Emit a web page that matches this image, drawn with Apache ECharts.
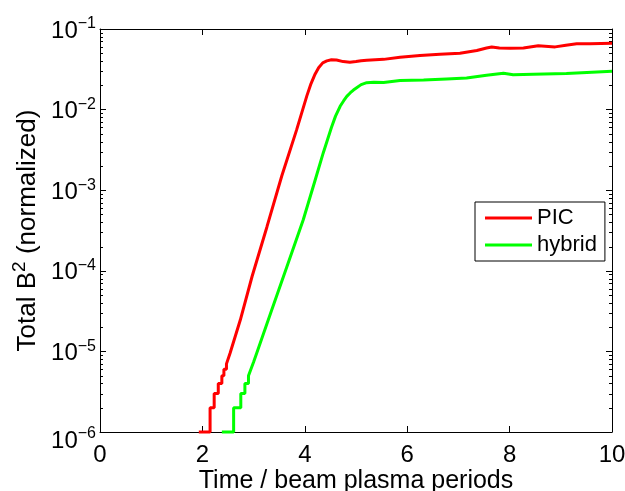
<!DOCTYPE html>
<html>
<head>
<meta charset="utf-8">
<script src="https://cdn.jsdelivr.net/npm/echarts@6/dist/echarts.min.js"></script>
<style>html,body{margin:0;padding:0;background:#fff}#c{width:625px;height:491px}</style>
</head>
<body>
<div id="c"></div>
<script>
// ---- data ----
const xTicks = [0, 2, 4, 6, 8, 10];
const yTickExponents = [-6, -5, -4, -3, -2, -1];
const seriesNames = ['PIC', 'hybrid'];

const picTime = [1.93, 2.15, 2.15, 2.23, 2.23, 2.31, 2.31, 2.38, 2.38, 2.42, 2.42, 2.47, 2.47, 2.54,
  2.74, 2.97, 3.26, 3.55, 3.84, 4.04, 4.12, 4.20, 4.27, 4.35, 4.43, 4.52, 4.62, 4.75, 4.88, 5.00, 5.10, 5.21, 5.54, 5.86,
  6.25, 6.64, 7.03, 7.36, 7.55, 7.65, 7.80, 8.01, 8.27, 8.56, 8.89, 9.10, 9.31, 9.57, 10.0];
const picB2 = [1e-6, 1e-6, 2e-6, 2e-6, 3e-6, 3e-6, 4e-6, 4e-6, 5e-6, 5e-6, 6e-6, 6e-6, 7e-6, 9.5e-6,
  2.45e-5, 8.5e-5, 3.5e-4, 1.5e-3, 5.6e-3, 0.0148, 0.0209, 0.0275, 0.0331, 0.038, 0.0402, 0.0415, 0.0412, 0.0394, 0.0386, 0.0394, 0.0403, 0.041, 0.042, 0.0447,
  0.047, 0.0485, 0.050, 0.054, 0.058, 0.0597, 0.058, 0.0575, 0.058, 0.062, 0.060, 0.063, 0.0655, 0.0655, 0.0665];

const hybTime = [2.38, 2.61, 2.61, 2.75, 2.75, 2.83, 2.83, 2.90, 2.90, 3.00, 3.06, 3.33, 3.65, 3.97,
  4.20, 4.36, 4.52, 4.60, 4.69, 4.76, 4.82, 4.89, 4.95, 5.02, 5.10, 5.21, 5.35, 5.54, 5.86, 6.32, 6.77, 7.16, 7.55, 7.88, 8.07,
  8.46, 9.11, 9.51, 10.0];
const hybB2 = [1e-6, 1e-6, 2e-6, 2e-6, 3e-6, 3e-6, 4e-6, 4e-6, 5e-6, 7.4e-6, 9.5e-6, 2.95e-5, 1.12e-4, 4.3e-4,
  1.32e-3, 2.9e-3, 6.0e-3, 0.0083, 0.011, 0.0129, 0.0146, 0.0162, 0.0175, 0.0188, 0.0204, 0.0216, 0.0219, 0.0217, 0.0229, 0.0233, 0.024, 0.0246, 0.0266, 0.0282, 0.027,
  0.0275, 0.028, 0.0289, 0.030];

const FONT = 'Liberation Sans, Arial, Helvetica, sans-serif';
const pair = (xs, ys) => xs.map((x, i) => [x, ys[i]]);

// minor tick positions on log axis (2..9 x 10^k)
const minorVals = [];
for (let k = yTickExponents[0]; k < yTickExponents[yTickExponents.length - 1]; k++) {
  for (let m = 2; m <= 9; m++) minorVals.push([0, m * Math.pow(10, k)]);
}

const chart = echarts.init(document.getElementById('c'), null, {renderer: 'canvas'});
const yMin = Math.pow(10, yTickExponents[0]);
const yMax = Math.pow(10, yTickExponents[yTickExponents.length - 1]);

const yLabelFmt = v => {
  const e = Math.round(Math.log10(v));
  const low = e === yTickExponents[0];
  return '{' + (low ? 'bl' : 'b') + '|10}{' + (low ? 'sl' : 's') + '|' + (e < 0 ? '\u2212' : '') + Math.abs(e) + '}';
};
const axisLineStyle = {show: true, onZero: false, lineStyle: {color: '#000', width: 1}};
const tickStyle = {show: true, inside: true, length: 6, lineStyle: {color: '#000'}};

chart.setOption({
  animation: false,
  backgroundColor: '#fff',
  grid: {left: 100, right: 13, top: 29, bottom: 59, containLabel: false, outerBoundsMode: 'none'},
  legend: {
    data: seriesNames,
    orient: 'vertical',
    left: 475, top: 202,
    icon: 'rect',
    itemWidth: 47, itemHeight: 3, itemGap: 5,
    padding: [5, 8, 5, 10],
    borderColor: '#000', borderWidth: 1,
    backgroundColor: '#fff',
    textStyle: {fontFamily: FONT, fontSize: 22, color: '#000', lineHeight: 22}
  },
  xAxis: [{
    type: 'value', min: xTicks[0], max: xTicks[xTicks.length - 1], interval: 2,
    position: 'bottom',
    axisLine: axisLineStyle, axisTick: tickStyle,
    axisLabel: {fontFamily: FONT, fontSize: 24, color: '#000', margin: 11},
    splitLine: {show: false},
    name: 'Time / beam plasma periods', nameLocation: 'middle', nameGap: 37,
    nameMoveOverlap: false,
    nameTextStyle: {fontFamily: FONT, fontSize: 25, color: '#000'}
  }, {
    type: 'value', min: xTicks[0], max: xTicks[xTicks.length - 1], interval: 2,
    position: 'top',
    axisLine: axisLineStyle, axisTick: tickStyle,
    axisLabel: {show: false}, splitLine: {show: false}
  }],
  yAxis: [{
    type: 'log', logBase: 10, min: yMin, max: yMax,
    position: 'left',
    axisLine: axisLineStyle, axisTick: tickStyle,
    axisLabel: {
      formatter: yLabelFmt, margin: 4, color: '#000', padding: [4, 0, 0, 0],
      rich: {
        b: {fontFamily: FONT, fontSize: 24, color: '#000'},
        s: {fontFamily: FONT, fontSize: 16, color: '#000', padding: [0, 0, 14, 0]},
        bl: {fontFamily: FONT, fontSize: 24, color: '#000', padding: [14, 0, 0, 0]},
        sl: {fontFamily: FONT, fontSize: 16, color: '#000', padding: [14, 0, 14, 0]}
      }
    },
    splitLine: {show: false},
    name: 'Total B{s|2} (normalized)', nameLocation: 'middle', nameGap: 54,
    nameMoveOverlap: false,
    nameTextStyle: {
      fontFamily: FONT, fontSize: 26, color: '#000',
      rich: {s: {fontFamily: FONT, fontSize: 19, color: '#000', padding: [0, 0, 17, 0]}}
    }
  }, {
    type: 'log', logBase: 10, min: yMin, max: yMax,
    position: 'right',
    axisLine: axisLineStyle, axisTick: tickStyle,
    axisLabel: {show: false}, splitLine: {show: false}
  }],
  series: [{
    name: 'minorTicks', type: 'custom', xAxisIndex: 0, yAxisIndex: 0,
    silent: true, clip: false, z: 1,
    data: minorVals,
    renderItem: (params, api) => {
      const pL = api.coord([xTicks[0], api.value(1)]);
      const pR = api.coord([xTicks[xTicks.length - 1], api.value(1)]);
      const st = {stroke: '#000', lineWidth: 1};
      return {type: 'group', children: [
        {type: 'line', shape: {x1: pL[0], y1: Math.round(pL[1]) + 0.5, x2: pL[0] + 3, y2: Math.round(pL[1]) + 0.5}, style: st},
        {type: 'line', shape: {x1: pR[0], y1: Math.round(pR[1]) + 0.5, x2: pR[0] - 3, y2: Math.round(pR[1]) + 0.5}, style: st}
      ]};
    }
  }, {
    name: seriesNames[0], type: 'line', data: pair(picTime, picB2),
    showSymbol: false, symbol: 'none', clip: false, z: 3,
    lineStyle: {color: '#ff0000', width: 3}, itemStyle: {color: '#ff0000'}
  }, {
    name: seriesNames[1], type: 'line', data: pair(hybTime, hybB2),
    showSymbol: false, symbol: 'none', clip: false, z: 3,
    lineStyle: {color: '#00ff00', width: 3}, itemStyle: {color: '#00ff00'}
  }]
});
</script>
</body>
</html>
